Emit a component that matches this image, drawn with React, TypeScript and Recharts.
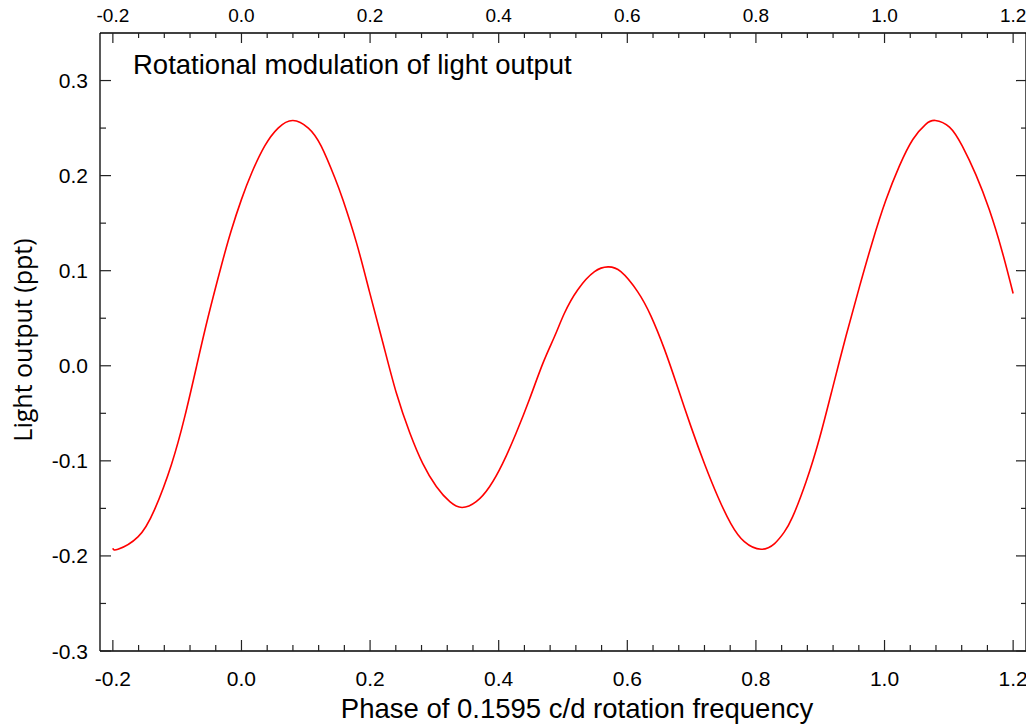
import React from 'react'
import { LineChart, Line, XAxis, YAxis } from 'recharts'

// phase points and light output (ppt)
const phase = [
  -0.2, -0.192, -0.161, -0.135, -0.109, -0.088, -0.07, -0.052, -0.031, -0.016,
  0.0, 0.016, 0.036, 0.057, 0.08, 0.104, 0.124, 0.145, 0.158, 0.179,
  0.199, 0.22, 0.241, 0.262, 0.282, 0.303, 0.324, 0.343, 0.365, 0.386,
  0.406, 0.427, 0.448, 0.469, 0.487, 0.502, 0.523, 0.549, 0.57, 0.59,
  0.616, 0.637, 0.658, 0.678, 0.699, 0.72, 0.741, 0.761, 0.782, 0.808,
  0.829, 0.844, 0.857, 0.878, 0.899, 0.919, 0.94, 0.961, 0.981, 1.002,
  1.023, 1.044, 1.064, 1.079, 1.101, 1.121, 1.142, 1.163, 1.183, 1.2,
]

const light = [
  -0.192, -0.193, -0.18, -0.151, -0.104, -0.053, -0.001, 0.051, 0.106, 0.142,
  0.175, 0.203, 0.231, 0.25, 0.258, 0.25, 0.231, 0.198, 0.174, 0.129,
  0.078, 0.024, -0.029, -0.071, -0.103, -0.127, -0.143, -0.149, -0.143, -0.127,
  -0.103, -0.071, -0.035, 0.003, 0.031, 0.055, 0.08, 0.099, 0.104, 0.099,
  0.078, 0.052, 0.017, -0.022, -0.064, -0.103, -0.138, -0.166, -0.185, -0.193,
  -0.187, -0.175, -0.159, -0.122, -0.076, -0.024, 0.031, 0.083, 0.13, 0.174,
  0.21, 0.238, 0.254, 0.258, 0.251, 0.231, 0.201, 0.164, 0.12, 0.076,
]

// tick positions (majors get a label)
const xTicks = [
  -0.2, -0.16, -0.12, -0.08, -0.04, 0, 0.04, 0.08, 0.12, 0.16, 0.2, 0.24,
  0.28, 0.32, 0.36, 0.4, 0.44, 0.48, 0.52, 0.56, 0.6, 0.64, 0.68, 0.72, 0.76,
  0.8, 0.84, 0.88, 0.92, 0.96, 1.0, 1.04, 1.08, 1.12, 1.16, 1.2,
]
const yTicks = [-0.3, -0.25, -0.2, -0.15, -0.1, -0.05, 0, 0.05, 0.1, 0.15, 0.2, 0.25, 0.3]

const xDomain = [-0.22, 1.22]
const yDomain = [-0.3, 0.35]

const data = phase.map((x, i) => ({ x, y: light[i] }))

const FONT = '"Liberation Sans", Arial, sans-serif'
const TICK_COLOR = '#222'
const MAJOR = 11
const MINOR = 6

const isMajorX = (v: number) => Math.round(v * 100) % 20 === 0
const isMajorY = (v: number) => Math.round(v * 100) % 10 === 0

const BottomTick = ({ x, y, payload }: any) => {
  const major = isMajorX(payload.value)
  return (
    <g>
      <line x1={x} x2={x} y1={y} y2={y - (major ? MAJOR : MINOR)} stroke={TICK_COLOR} strokeWidth={1.2} />
      {major && (
        <text x={x} y={y + 35} textAnchor="middle" fontSize={21} fontFamily={FONT} fill="#000">
          {payload.value.toFixed(1)}
        </text>
      )}
    </g>
  )
}

const TopTick = ({ x, y, payload }: any) => {
  const major = isMajorX(payload.value)
  return (
    <g>
      <line x1={x} x2={x} y1={y} y2={y + (major ? MAJOR - 1 : MINOR - 1)} stroke={TICK_COLOR} strokeWidth={1.2} />
      {major && (
        <text x={x} y={y - 11.5} textAnchor="middle" fontSize={19} fontFamily={FONT} fill="#000">
          {payload.value.toFixed(1)}
        </text>
      )}
    </g>
  )
}

const LeftTick = ({ x, y, payload }: any) => {
  const major = isMajorY(payload.value)
  return (
    <g>
      <line x1={x} x2={x + (major ? MAJOR : MINOR)} y1={y} y2={y} stroke={TICK_COLOR} strokeWidth={1.2} />
      {major && (
        <text x={x - 12} y={y + 7.5} textAnchor="end" fontSize={21} fontFamily={FONT} fill="#000">
          {payload.value.toFixed(1)}
        </text>
      )}
    </g>
  )
}

const RightTick = ({ x, y, payload }: any) => {
  const major = isMajorY(payload.value)
  return (
    <line x1={x} x2={x - (major ? MAJOR - 1 : MINOR - 1)} y1={y} y2={y} stroke={TICK_COLOR} strokeWidth={1.2} />
  )
}

const W = 1034
const H = 725

export default function App() {
  return (
    // pull the chart over the body margin so chart pixels equal page pixels
    <div style={{ position: 'relative', width: W, height: H, margin: '-8px 0 0 -8px', fontFamily: FONT, background: '#fff' }}>
      <LineChart width={W} height={H} data={data} margin={{ top: 0, right: 0, bottom: 0, left: 0 }}>
        <XAxis
          dataKey="x"
          type="number"
          domain={xDomain}
          allowDataOverflow
          ticks={xTicks}
          interval={0}
          height={74}
          tickSize={0}
          tickMargin={0}
          tickLine={false}
          axisLine={{ stroke: '#000', strokeWidth: 1.3 }}
          tick={<BottomTick />}
        />
        <XAxis
          xAxisId="top"
          dataKey="x"
          orientation="top"
          type="number"
          domain={xDomain}
          allowDataOverflow
          ticks={xTicks}
          interval={0}
          height={33}
          tickSize={0}
          tickMargin={0}
          tickLine={false}
          axisLine={{ stroke: '#000', strokeWidth: 1.3 }}
          tick={<TopTick />}
        />
        <YAxis
          type="number"
          domain={yDomain}
          allowDataOverflow
          ticks={yTicks}
          interval={0}
          width={100}
          tickSize={0}
          tickMargin={0}
          tickLine={false}
          axisLine={{ stroke: '#000', strokeWidth: 1.3 }}
          tick={<LeftTick />}
        />
        <YAxis
          yAxisId="right"
          orientation="right"
          type="number"
          domain={yDomain}
          allowDataOverflow
          ticks={yTicks}
          interval={0}
          width={8}
          tickSize={0}
          tickMargin={0}
          tickLine={false}
          axisLine={{ stroke: '#000', strokeWidth: 1.3 }}
          tick={<RightTick />}
        />
        {/* invisible copy so the mirrored top/right axes get a domain */}
        <Line
          xAxisId="top"
          yAxisId="right"
          type="natural"
          dataKey="y"
          stroke="none"
          dot={false}
          activeDot={false}
          legendType="none"
          isAnimationActive={false}
        />
        <Line
          type="natural"
          dataKey="y"
          stroke="#ff0000"
          strokeWidth={1.6}
          dot={false}
          activeDot={false}
          isAnimationActive={false}
        />
      </LineChart>

      {/* title and axis titles */}
      <svg width={W} height={H} style={{ position: 'absolute', left: 0, top: 0, pointerEvents: 'none' }}>
        <text x={133} y={74} fontSize={27.5} fontFamily={FONT} fill="#000">
          Rotational modulation of light output
        </text>
        <text x={577} y={718} fontSize={27.5} fontFamily={FONT} textAnchor="middle" fill="#000">
          Phase of 0.1595 c/d rotation frequency
        </text>
        <text
          transform="translate(32,340) rotate(-90)"
          fontSize={25}
          fontFamily='"Open Sans", sans-serif'
          textAnchor="middle"
          fill="#000"
        >
          Light output (ppt)
        </text>
      </svg>
    </div>
  )
}
